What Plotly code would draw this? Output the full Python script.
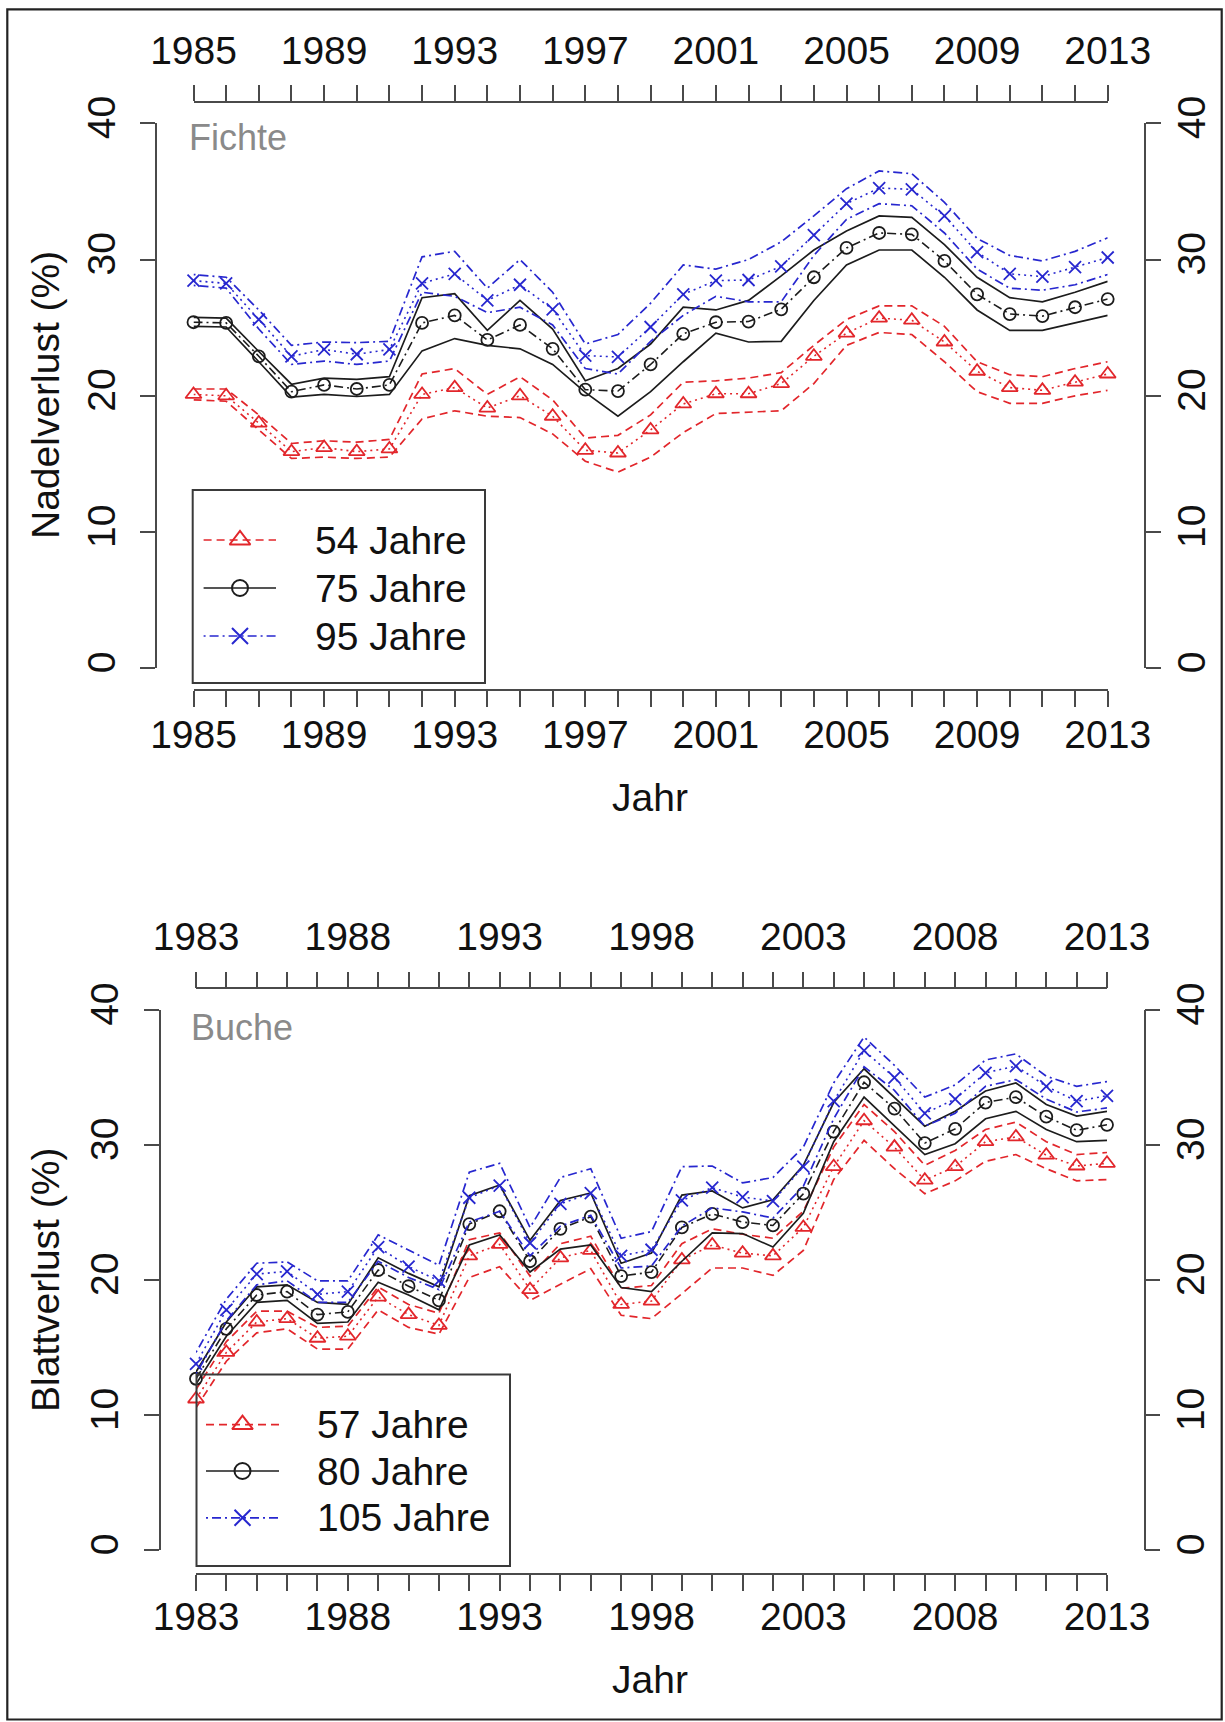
import plotly.graph_objects as go

W, H = 1225, 1722

# ---------------- data: Fichte (spruce) ----------------
years_fichte = list(range(1985, 2014))
fichte_labels = [str(y) if (y - 1985) % 4 == 0 else "" for y in years_fichte]

fi54 = [20.1, 20.0, 18.0, 15.9, 16.2, 15.9, 16.1, 20.1, 20.6, 19.1, 20.0, 18.5, 16.0, 15.8, 17.5,
        19.4, 20.15, 20.15, 20.9, 22.9, 24.6, 25.7, 25.55, 23.95, 21.8, 20.6, 20.4, 21.0, 21.6]
fi54_hi = [20.5, 20.5, 18.6, 16.5, 16.7, 16.6, 16.8, 21.6, 22.0, 20.1, 21.4, 19.7, 16.9, 17.1, 18.6,
           21.0, 21.1, 21.3, 21.7, 23.7, 25.6, 26.6, 26.6, 25.1, 22.5, 21.55, 21.4, 22.0, 22.5]
fi54_lo = [19.7, 19.6, 17.5, 15.4, 15.5, 15.4, 15.5, 18.3, 18.9, 18.5, 18.4, 17.2, 15.2, 14.4, 15.5,
           17.3, 18.7, 18.8, 18.9, 20.9, 23.7, 24.65, 24.5, 22.5, 20.3, 19.45, 19.45, 20.0, 20.4]

fi75 = [25.4, 25.35, 22.9, 20.3, 20.8, 20.5, 20.8, 25.35, 25.9, 24.1, 25.2, 23.45, 20.45, 20.35, 22.3,
        24.55, 25.4, 25.45, 26.35, 28.7, 30.85, 31.95, 31.85, 29.9, 27.45, 26.0, 25.85, 26.5, 27.1]
fi75_hi = [25.75, 25.7, 23.25, 20.85, 21.3, 21.2, 21.4, 27.2, 27.5, 24.8, 27.0, 24.9, 21.1, 22.0, 23.8,
           26.5, 26.3, 27.0, 28.8, 30.7, 32.1, 33.2, 33.1, 31.1, 28.7, 27.2, 26.9, 27.6, 28.4]
fi75_lo = [25.1, 25.05, 22.5, 19.9, 20.1, 19.95, 20.1, 23.3, 24.2, 23.7, 23.45, 22.3, 20.25, 18.5, 20.3,
           22.5, 24.6, 23.95, 24.0, 27.0, 29.6, 30.7, 30.7, 28.7, 26.3, 24.8, 24.8, 25.35, 25.9]

fi95 = [28.45, 28.25, 25.6, 22.9, 23.4, 23.05, 23.4, 28.25, 28.95, 27.0, 28.15, 26.35, 22.95, 22.85, 25.05,
        27.45, 28.45, 28.5, 29.5, 31.8, 34.1, 35.25, 35.15, 33.2, 30.55, 28.95, 28.75, 29.45, 30.15]
fi95_hi = [28.9, 28.7, 26.3, 23.7, 23.95, 23.9, 24.0, 30.2, 30.6, 27.9, 30.0, 27.6, 23.8, 24.5, 26.8,
           29.6, 29.3, 30.0, 31.3, 33.2, 35.2, 36.5, 36.3, 34.2, 31.55, 30.3, 29.9, 30.6, 31.6]
fi95_lo = [28.1, 27.9, 24.9, 22.3, 22.55, 22.3, 22.55, 27.6, 27.3, 26.1, 26.5, 25.2, 22.0, 21.6, 24.0,
           25.9, 27.3, 26.9, 26.9, 30.3, 32.95, 34.1, 33.95, 31.95, 29.3, 27.9, 27.75, 28.15, 28.9]

# ---------------- data: Buche (beech) ----------------
years_buche = list(range(1983, 2014))
buche_labels = [str(y) if (y - 1983) % 5 == 0 else "" for y in years_buche]

bu57 = [11.2, 14.65, 16.9, 17.15, 15.7, 15.85, 18.75, 17.45, 16.65, 21.8, 22.65, 19.3, 21.65, 22.2, 18.2,
        18.45, 21.5, 22.6, 22.0, 21.8, 23.9, 28.4, 31.8, 29.85, 27.4, 28.4, 30.25, 30.6, 29.25, 28.45, 28.65]
bu57_hi = [11.9, 15.45, 17.7, 17.7, 16.5, 16.6, 19.5, 18.2, 17.55, 23.0, 23.5, 20.3, 22.7, 23.25, 19.4,
           19.6, 22.7, 23.8, 23.4, 23.1, 25.1, 29.85, 33.0, 31.0, 28.5, 29.6, 31.15, 31.7, 30.25, 29.3, 29.45]
bu57_lo = [10.55, 14.0, 16.1, 16.4, 14.9, 14.9, 17.8, 16.5, 16.0, 20.2, 21.0, 18.5, 19.7, 20.85, 17.4,
           17.15, 19.0, 20.9, 20.9, 20.35, 22.2, 27.45, 30.35, 28.25, 26.4, 27.35, 28.8, 29.3, 28.25, 27.35, 27.45]

bu80 = [12.7, 16.4, 18.9, 19.15, 17.45, 17.65, 20.75, 19.55, 18.5, 24.15, 25.1, 21.4, 23.8, 24.7, 20.3,
        20.6, 23.9, 24.9, 24.3, 24.05, 26.4, 31.0, 34.65, 32.7, 30.15, 31.2, 33.15, 33.55, 32.1, 31.1, 31.5]
bu80_hi = [13.2, 16.9, 19.5, 19.65, 18.35, 18.2, 21.65, 20.5, 19.5, 26.25, 27.05, 22.95, 25.9, 26.45, 21.25,
           22.0, 26.3, 26.6, 25.35, 25.95, 28.5, 33.15, 35.65, 33.55, 31.4, 32.5, 34.0, 34.6, 33.0, 32.15, 32.5]
bu80_lo = [12.3, 15.85, 18.35, 18.5, 16.8, 16.9, 19.85, 18.9, 17.8, 22.6, 23.35, 20.6, 22.3, 22.6, 19.45,
           19.15, 21.4, 23.5, 23.45, 22.45, 24.95, 30.25, 33.55, 31.4, 29.3, 30.1, 31.95, 32.5, 31.15, 30.25, 30.35]

bu105 = [13.8, 17.8, 20.45, 20.65, 18.95, 19.15, 22.45, 21.0, 19.95, 26.1, 27.0, 22.75, 25.65, 26.45, 21.8,
         22.25, 25.9, 26.85, 26.15, 25.85, 28.4, 33.25, 37.0, 35.0, 32.35, 33.4, 35.35, 35.85, 34.35, 33.25, 33.65]
bu105_hi = [14.65, 18.6, 21.25, 21.35, 19.95, 19.95, 23.35, 22.2, 21.1, 28.0, 28.65, 23.9, 27.6, 28.25, 23.1,
            23.6, 28.4, 28.45, 27.2, 27.6, 29.85, 34.6, 38.0, 35.9, 33.55, 34.45, 36.3, 36.75, 35.1, 34.35, 34.7]
bu105_lo = [13.05, 17.0, 19.65, 19.95, 18.35, 18.35, 21.4, 20.2, 19.3, 24.3, 25.1, 21.8, 24.0, 24.8, 20.9,
            21.05, 24.0, 25.35, 25.05, 24.6, 26.95, 31.95, 35.8, 34.05, 31.4, 32.35, 34.35, 34.85, 33.4, 32.45, 32.75]

fichte_names = ["54 Jahre", "75 Jahre", "95 Jahre"]
buche_names = ["57 Jahre", "80 Jahre", "105 Jahre"]
y_ticks = [0, 10, 20, 30, 40]

# ---------------- styles ----------------
FONT = "Liberation Sans, Arial, Helvetica, sans-serif"
RED, BLACK, BLUE = "#E2262B", "#1c1c1c", "#2727CF"
AXC = "#4a4a4a"
STYLES = [
    dict(color=RED, main="2px,4px", band="8px,5px", symbol="triangle-up-open", size=14),
    dict(color=BLACK, main="9px,4px,2px,4px", band="solid", symbol="circle-open", size=12),
    dict(color=BLUE, main="2px,4px", band="2px,4px,9px,4px", symbol="x-thin-open", size=12),
]


def px_x(p):
    return p / W


def px_y(p):
    return 1 - p / H


fig = go.Figure()


def add_panel(years, series, xa, ya):
    for (mid, lo, hi), st in zip(series, STYLES):
        for band in (lo, hi):
            fig.add_trace(go.Scatter(x=years, y=band, mode="lines", xaxis=xa, yaxis=ya,
                                     line=dict(color=st["color"], width=1.7, dash=st["band"]),
                                     showlegend=False, hoverinfo="skip", cliponaxis=False))
        fig.add_trace(go.Scatter(x=years, y=mid, mode="lines+markers", xaxis=xa, yaxis=ya,
                                 line=dict(color=st["color"], width=1.6, dash=st["main"]),
                                 marker=dict(symbol=st["symbol"], size=st["size"], color=st["color"],
                                             line=dict(color=st["color"], width=1.8)),
                                 showlegend=False, cliponaxis=False))


add_panel(years_fichte, [(fi54, fi54_lo, fi54_hi), (fi75, fi75_lo, fi75_hi), (fi95, fi95_lo, fi95_hi)], "x", "y")
add_panel(years_buche, [(bu57, bu57_lo, bu57_hi), (bu80, bu80_lo, bu80_hi), (bu105, bu105_lo, bu105_hi)], "x3", "y3")

# empty traces so the mirrored axes exist
for xa, ya in (("x2", "y2"), ("x4", "y4")):
    fig.add_trace(go.Scatter(x=[], y=[], xaxis=xa, yaxis=ya, showlegend=False))

tickfont = dict(family=FONT, size=39, color="#111")
common_x = dict(ticks="outside", ticklen=16, tickwidth=1.6, tickcolor=AXC, showline=True, linecolor=AXC,
                linewidth=1.6, showgrid=False, zeroline=False, tickfont=tickfont, anchor="free",
                automargin=False)
common_y = dict(ticks="outside", ticklen=15, tickwidth=1.6, tickcolor=AXC, showline=True, linecolor=AXC,
                linewidth=1.6, showgrid=False, zeroline=False, tickfont=tickfont, anchor="free",
                range=[0, 40], tickvals=y_ticks, ticktext=[str(v) for v in y_ticks], tickangle=-90,
                automargin=False)

fig.update_layout(
    template="none",
    width=W, height=H, autosize=False, margin=dict(l=0, r=0, t=0, b=0, pad=0, autoexpand=False),
    paper_bgcolor="white", plot_bgcolor="rgba(0,0,0,0)", showlegend=False,
    xaxis=dict(common_x, domain=[px_x(193.5), px_x(1107.7)], range=[1985, 2013], position=px_y(690),
               tickvals=years_fichte, ticktext=fichte_labels, side="bottom", ticklabelstandoff=-6),
    xaxis2=dict(common_x, overlaying="x", range=[1985, 2013], position=px_y(101.7),
                tickvals=years_fichte, ticktext=fichte_labels, side="top", ticklabelstandoff=5),
    yaxis=dict(common_y, domain=[px_y(668.3), px_y(123.3)], position=px_x(156), side="left",
               ticklabelstandoff=10),
    yaxis2=dict(common_y, overlaying="y", position=px_x(1145), side="right", ticklabelstandoff=-3),
    xaxis3=dict(common_x, domain=[px_x(196), px_x(1107)], range=[1983, 2013], position=px_y(1573.7),
                tickvals=years_buche, ticktext=buche_labels, side="bottom", ticklabelstandoff=-7),
    xaxis4=dict(common_x, overlaying="x3", range=[1983, 2013], position=px_y(988.3),
                tickvals=years_buche, ticktext=buche_labels, side="top", ticklabelstandoff=6),
    yaxis3=dict(common_y, domain=[px_y(1550.3), px_y(1010)], position=px_x(159.5), side="left",
                ticklabelstandoff=10),
    yaxis4=dict(common_y, overlaying="y3", position=px_x(1144.5), side="right", ticklabelstandoff=-3),
    # full-page pixel axes used for the hand-drawn legends
    xaxis5=dict(domain=[0, 1], range=[0, W], visible=False, anchor="y5", automargin=False),
    yaxis5=dict(domain=[0, 1], range=[H, 0], visible=False, anchor="x5", automargin=False),
)

# ---------------- legends ----------------
legends = [
    dict(names=fichte_names, box=(192.7, 490, 485, 683), rows=[540, 588, 636], x0=203.6, x1=276, xm=240, xt=312.6),
    dict(names=buche_names, box=(196.5, 1374.6, 510, 1566), rows=[1424.6, 1471, 1517.8], x0=206, x1=279, xm=242.5, xt=314.6),
]
for lg in legends:
    bx0, by0, bx1, by1 = lg["box"]
    fig.add_shape(type="rect", xref="paper", yref="paper", x0=px_x(bx0), x1=px_x(bx1), y0=px_y(by1), y1=px_y(by0),
                  line=dict(color="#3a3a3a", width=2), fillcolor="rgba(0,0,0,0)")
    for name, yr, st in zip(lg["names"], lg["rows"], STYLES):
        fig.add_trace(go.Scatter(x=[lg["x0"], lg["x1"]], y=[yr, yr], mode="lines", xaxis="x5", yaxis="y5",
                                 line=dict(color=st["color"], width=1.7, dash=st["band"]),
                                 showlegend=False, hoverinfo="skip"))
        fig.add_trace(go.Scatter(x=[lg["xm"]], y=[yr], mode="markers", xaxis="x5", yaxis="y5",
                                 marker=dict(symbol=st["symbol"], size=st["size"] + 4, color=st["color"],
                                             line=dict(color=st["color"], width=2)),
                                 showlegend=False, hoverinfo="skip"))
        fig.add_annotation(x=px_x(lg["xt"]), y=px_y(yr), xref="paper", yref="paper", text=name,
                           showarrow=False, xanchor="left", yanchor="middle",
                           font=dict(family=FONT, size=39, color="#111"))

# ---------------- titles / labels ----------------
ann = [
    dict(text="Jahr", x=650, y=797, angle=0, size=39, color="#111", anchor="center"),
    dict(text="Jahr", x=650, y=1679, angle=0, size=39, color="#111", anchor="center"),
    dict(text="Nadelverlust (%)", x=45, y=395, angle=-90, size=39, color="#111", anchor="center"),
    dict(text="Blattverlust (%)", x=45, y=1280, angle=-90, size=39, color="#111", anchor="center"),
    dict(text="Fichte", x=186.7, y=137, angle=0, size=36, color="#8a8a8a", anchor="left"),
    dict(text="Buche", x=189, y=1027, angle=0, size=36, color="#8a8a8a", anchor="left"),
]
for a in ann:
    fig.add_annotation(x=px_x(a["x"]), y=px_y(a["y"]), xref="paper", yref="paper", text=a["text"],
                       showarrow=False, textangle=a["angle"], xanchor=a["anchor"], yanchor="middle",
                       font=dict(family=FONT, size=a["size"], color=a["color"]))

# outer frame
fig.add_shape(type="rect", xref="paper", yref="paper", x0=px_x(7.3), x1=px_x(1221.7), y0=px_y(1719.5), y1=px_y(9.3),
              line=dict(color="#222", width=2.2), fillcolor="rgba(0,0,0,0)")

fig.write_html("out.html", post_script="document.body.style.margin='0px';",
               config={"displayModeBar": False})
